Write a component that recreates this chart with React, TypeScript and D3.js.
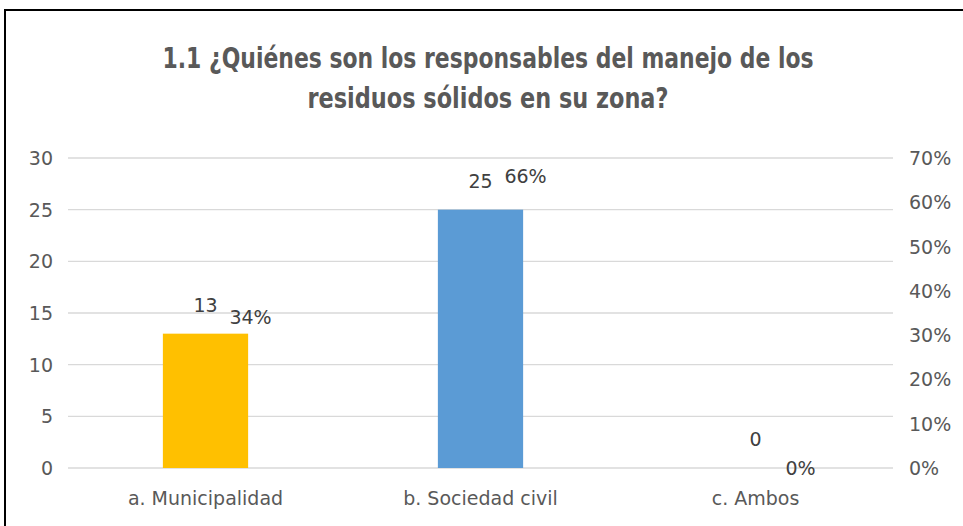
import React from 'react';
import * as d3 from 'd3';

const categories = ['a. Municipalidad', 'b. Sociedad civil', 'c. Ambos'];
const counts = [13, 25, 0];
const percents = [0.34, 0.66, 0];
const countTicks = [0, 5, 10, 15, 20, 25, 30];
const percentTicks = [0, 0.1, 0.2, 0.3, 0.4, 0.5, 0.6, 0.7];
const barColors = ['#FFC000', '#5B9BD5', '#A5A5A5'];
const titleLines = ['1.1 ¿Quiénes son los responsables del manejo de los', 'residuos sólidos en su zona?'];

const width = 963;
const height = 526;
const textColor = '#595959';
const font = '"DejaVu Sans", sans-serif';

const App: React.FC = () => {
  const plot = { left: 68, right: 893, top: 158, bottom: 468 };

  const x = d3.scaleBand<string>().domain(categories).range([plot.left, plot.right]).paddingInner(0.69).paddingOuter(0.345);
  const y = d3.scaleLinear().domain([0, 30]).range([plot.bottom, plot.top]);
  const yPct = d3.scaleLinear().domain([0, 0.7]).range([plot.bottom, plot.top]);
  const center = (c: string) => (x(c) ?? 0) + x.bandwidth() / 2;
  const fmtPct = d3.format('.0%');

  return (
    <svg width={width} height={height} style={{ position: 'absolute', left: 0, top: 0, background: '#fff' }}>
      <rect x={5} y={10} width={980} height={540} fill="#fff" stroke="#000" strokeWidth={2} />

      {/* title */}
      {titleLines.map((t, i) => (
        <text
          key={t}
          x={488}
          y={68 + i * 40}
          textAnchor="middle"
          fill={textColor}
          fontFamily='"DejaVu Sans Condensed", "DejaVu Sans", sans-serif'
          fontWeight="bold"
          fontSize={29}
          textLength={i === 0 ? 651 : 361}
          lengthAdjust="spacingAndGlyphs"
        >
          {t}
        </text>
      ))}

      {/* gridlines */}
      {countTicks.map(t => (
        <line key={t} x1={plot.left} x2={plot.right} y1={y(t)} y2={y(t)} stroke="#d9d9d9" strokeWidth={1.3} />
      ))}

      {/* left axis */}
      {countTicks.map(t => (
        <text key={'l' + t} x={53} y={y(t) + 7} textAnchor="end" fill={textColor} fontFamily={font} fontSize={19}>
          {t}
        </text>
      ))}

      {/* right axis */}
      {percentTicks.map(t => (
        <text key={'r' + t} x={909} y={yPct(t) + 7} textAnchor="start" fill={textColor} fontFamily={font} fontSize={19}>
          {fmtPct(t)}
        </text>
      ))}

      {/* bars */}
      {categories.map((c, i) => (
        <rect key={c} x={x(c)} y={y(counts[i])} width={x.bandwidth()} height={plot.bottom - y(counts[i])} fill={barColors[i]} />
      ))}

      {/* value labels */}
      {categories.map((c, i) => (
        <text key={'v' + c} x={center(c)} y={y(counts[i]) - 22} textAnchor="middle" fill="#404040" fontFamily={font} fontSize={19}>
          {counts[i]}
        </text>
      ))}
      {categories.map((c, i) => (
        <text key={'p' + c} x={center(c) + 45} y={yPct(percents[i]) + 7} textAnchor="middle" fill="#404040" fontFamily={font} fontSize={19}>
          {fmtPct(percents[i])}
        </text>
      ))}

      {/* category labels */}
      {categories.map(c => (
        <text key={'c' + c} x={center(c)} y={505} textAnchor="middle" fill={textColor} fontFamily={font} fontSize={19}>
          {c}
        </text>
      ))}
    </svg>
  );
};

export default App;
